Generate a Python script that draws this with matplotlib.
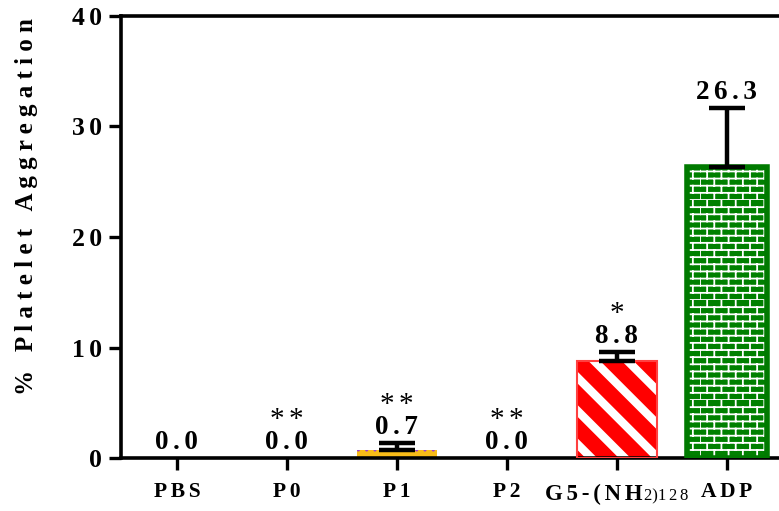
import warnings
import numpy as np
import matplotlib
matplotlib.use("Agg")
import matplotlib.pyplot as plt
import matplotlib.hatch as mhatch
from matplotlib.path import Path

warnings.filterwarnings("ignore")

SP = "\u2006"  # narrow space used to mimic the wide letter spacing

# data
groups = ["PBS", "P0", "P1", "P2", "G5-(NH2)128", "ADP"]
tick_text = ["PBS", "P0", "P1", "P2", "", "ADP"]
values = [0.0, 0.0, 0.7, 0.0, 8.8, 26.3]
errors = [0.0, 0.0, 0.65, 0.0, 0.8, 5.4]
stars = ["", "**", "**", "**", "*", ""]
yticks = [0, 10, 20, 30, 40]


def spaced(s):
    return SP.join(s)


def star_text(s):
    # mathtext keeps the text box tight around the asterisks
    return "$" + r"\/".join([r"\mathrm{*}"] * len(s)) + "$"


# brick pattern for the ADP bar (matplotlib has no brick hatch)
class BrickHatch(mhatch.HatchPatternBase):
    def __init__(self, hatch, density):
        self.rows = 14 if "B" in hatch else 0
        self.cols = 7
        self.num_vertices = self.rows * (2 + 2 * self.cols)

    def set_vertices_and_codes(self, vertices, codes):
        h = 1.0 / self.rows
        w = 1.0 / self.cols
        k = 0
        for i in range(self.rows):
            y0 = i * h
            vertices[k] = (0, y0)
            vertices[k + 1] = (1, y0)
            codes[k] = Path.MOVETO
            codes[k + 1] = Path.LINETO
            k += 2
            shift = 0.5 * w * (i % 2)
            for j in range(self.cols):
                xx = j * w + shift
                vertices[k] = (xx, y0)
                vertices[k + 1] = (xx, y0 + h)
                codes[k] = Path.MOVETO
                codes[k + 1] = Path.LINETO
                k += 2


mhatch._hatch_types.append(BrickHatch)

plt.rcParams["font.family"] = ["Liberation Serif", "DejaVu Serif"]
plt.rcParams["font.weight"] = "bold"
plt.rcParams["mathtext.fontset"] = "custom"
plt.rcParams["mathtext.rm"] = "Liberation Serif:weight=normal"
plt.rcParams["mathtext.bf"] = "Liberation Serif:weight=bold"

fig = plt.figure(figsize=(7.79, 5.11), dpi=100)
ax = fig.add_axes([0.155, 0.1037, 0.919, 0.865])

x = np.arange(len(groups))
w = 0.727

styles = [
    dict(color="white", hatch=None, hlw=1.0, edge="white"),
    dict(color="white", hatch=None, hlw=1.0, edge="white"),
    dict(color="#F8BC18", hatch="..", hlw=1.0, edge="#9B3FD0"),
    dict(color="white", hatch=None, hlw=1.0, edge="white"),
    dict(color="#FF0000", hatch="\\", hlw=6.0, edge="white"),
    dict(color="#008000", hatch="B", hlw=1.3, edge="white"),
]

for i in range(len(groups)):
    s = styles[i]
    b = ax.bar(x[i], values[i], w, color=s["color"], hatch=s["hatch"],
               edgecolor=s["edge"], linewidth=0, zorder=2)
    for p in b:
        if hasattr(p, "set_hatch_linewidth"):
            p.set_hatch_linewidth(s["hlw"])

# outlines
ax.bar(x[4], values[4], w, fill=False, edgecolor="#FF4040", linewidth=1.5, zorder=3)
ax.bar(x[5], values[5], w, fill=False, edgecolor="#007A00", linewidth=4, zorder=3)

# upper error bars only
for i in range(len(groups)):
    if errors[i] > 0:
        ax.errorbar(x[i], values[i], yerr=[[0], [errors[i]]], fmt="none",
                    ecolor="black", elinewidth=3.2, capsize=13, capthick=3.2,
                    zorder=4)

# value labels and significance stars
for i in range(len(groups)):
    top = values[i] + errors[i]
    ax.annotate(spaced(f"{values[i]:.1f}"), xy=(x[i], top), xytext=(0, 6.5),
                textcoords="offset points", ha="center", va="baseline",
                fontsize=19.5, fontweight="bold")
    if stars[i]:
        ax.annotate(star_text(stars[i]), xy=(x[i], top), xytext=(0, 24),
                    textcoords="offset points", ha="center", va="baseline",
                    fontsize=21, fontweight="normal")

ax.set_xlim(-0.51, 6.0)
ax.set_ylim(0, 40)
ax.set_xticks(x)
ax.set_xticklabels([spaced(t) for t in tick_text], fontsize=15.5,
                   fontweight="bold")
ax.set_yticks(yticks)
ax.set_yticklabels([spaced(str(t)) for t in yticks], fontsize=18.5,
                   fontweight="bold")

# label with subscripts for the dendrimer group
ax.annotate(spaced("G5-(NH"), xy=(x[4], 0), xycoords=("data", "axes fraction"),
            xytext=(18.5, -30.5), textcoords="offset points", ha="right",
            va="baseline", fontsize=16.5, fontweight="bold")
ax.annotate("2)1" + SP + "2" + SP + "8", xy=(x[4], 0),
            xycoords=("data", "axes fraction"),
            xytext=(19.5, -30.5), textcoords="offset points", ha="left",
            va="baseline", fontsize=12, fontweight="normal")

ax.tick_params(axis="both", length=8.6, width=2.4, color="black")
ax.tick_params(axis="x", pad=9)
ax.tick_params(axis="y", pad=5)
for side in ["left", "bottom", "top"]:
    ax.spines[side].set_linewidth(2.6)
ax.spines["right"].set_visible(False)

fig.text(27 / 779, 1 - 207 / 511,
         "%   " + " ".join("Platelet") + "   " + " ".join("Aggregation"),
         rotation=90, ha="center", va="center", fontsize=18,
         fontweight="bold")

fig.savefig("out.png", dpi=100)
